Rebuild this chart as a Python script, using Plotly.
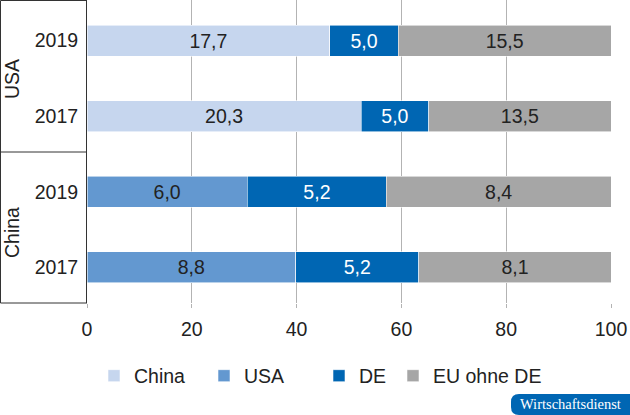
import plotly.graph_objects as go

# ---- data ----
groups = ["USA", "China"]
years = ["2019", "2017", "2019", "2017"]
row_pos = [3, 2, 1, 0]
china_vals = [17.7, 20.3, None, None]
usa_vals = [None, None, 6.0, 8.8]
de_vals = [5.0, 5.0, 5.2, 5.2]
eu_vals = [15.5, 13.5, 8.4, 8.1]
x_ticks = [0, 20, 40, 60, 80, 100]

series = [
    ("China", china_vals, "#c6d6ee", "#222222", "legend"),
    ("USA", usa_vals, "#6398d0", "#222222", "legend2"),
    ("DE", de_vals, "#0066b3", "#ffffff", "legend3"),
    ("EU ohne DE", eu_vals, "#a6a6a6", "#222222", "legend4"),
]

FONT = "Liberation Sans, Arial, sans-serif"
FS = 19.5

def fmt(v):
    return "" if v is None else f"{v:.1f}".replace(".", ",")

fig = go.Figure()
for name, vals, color, tcolor, leg in series:
    fig.add_trace(go.Bar(
        name=name, orientation="h", y=row_pos, x=vals,
        width=0.41,
        marker=dict(color=color, line=dict(color="rgba(255,255,255,0.7)", width=0.8)),
        text=[fmt(v) for v in vals], texttemplate="%{text}",
        textposition="inside", insidetextanchor="middle", textangle=0,
        insidetextfont=dict(family=FONT, size=FS, color=tcolor),
        hoverinfo="skip", legend=leg, showlegend=True,
    ))

L, R, T, B = 87, 19, 0, 112
W, H = 630, 415
pw, ph = W - L - R, H - T - B

def px_x(p):
    return (p - L) / pw

def px_y(p):
    return (T + ph - p) / ph

leg_common = dict(orientation="h", xanchor="left", yanchor="middle",
                  bgcolor="rgba(0,0,0,0)", borderwidth=0,
                  font=dict(family=FONT, size=FS, color="#222222"))
leg_y = px_y(376)

fig.update_layout(
    width=W, height=H,
    margin=dict(l=L, r=R, t=T, b=B, pad=0),
    paper_bgcolor="white", plot_bgcolor="white",
    barmode="stack", barnorm="percent",
    font=dict(family=FONT, size=FS, color="#222222"),
    legend=dict(x=px_x(94), y=leg_y, **leg_common),
    legend2=dict(x=px_x(204), y=leg_y, **leg_common),
    legend3=dict(x=px_x(319), y=leg_y, **leg_common),
    legend4=dict(x=px_x(393), y=leg_y, **leg_common),
    xaxis=dict(range=[0, 100], tickvals=x_ticks, showgrid=True,
               gridcolor="#b3b3b3", gridwidth=1, zeroline=False,
               showline=False, ticks="outside", ticklen=4, tickcolor="#b3b3b3",
               ticklabelstandoff=5,
               tickfont=dict(family=FONT, size=FS, color="#222222"),
               fixedrange=True),
    yaxis=dict(range=[-0.472, 3.536], tickvals=row_pos, ticktext=years,
               showgrid=False, zeroline=False, showline=True,
               linecolor="#333333", linewidth=1, ticks="",
               ticklabelstandoff=4,
               tickfont=dict(family=FONT, size=FS, color="#222222"),
               fixedrange=True),
)

# group box on the left
line = dict(color="#333333", width=1)
x_left = px_x(0.5)
for y in [px_y(0.5), px_y(152), 0]:
    fig.add_shape(type="line", xref="paper", yref="paper",
                  x0=x_left, x1=0, y0=y, y1=y, line=line)
fig.add_shape(type="line", xref="paper", yref="paper",
              x0=x_left, x1=x_left, y0=0, y1=px_y(0.5), line=line)

# group labels
for g, yp in zip(groups, [79, 233]):
    fig.add_annotation(text=g, xref="paper", yref="paper",
                       x=px_x(12), y=px_y(yp), textangle=-90, showarrow=False,
                       xanchor="center", yanchor="middle",
                       font=dict(family=FONT, size=FS, color="#222222"))

# badge
r = 8
x0b, x1b, y0b, y1b = -100, 30, -91, -112
path = (f"M{x0b + r},{y0b} L{x1b},{y0b} L{x1b},{y1b} L{x0b + r},{y1b} "
        f"Q{x0b},{y1b} {x0b},{y1b + r} L{x0b},{y0b - r} Q{x0b},{y0b} {x0b + r},{y0b} Z")
fig.add_shape(type="path", xref="paper", yref="paper",
              xsizemode="pixel", ysizemode="pixel", xanchor=1, yanchor=0,
              path=path, fillcolor="#0066b3", line=dict(width=0))
fig.add_annotation(text="Wirtschaftsdienst", xref="paper", yref="paper",
                   x=px_x(570), y=px_y(404), showarrow=False,
                   xanchor="center", yanchor="middle",
                   font=dict(family="Liberation Serif, Times New Roman, serif",
                             size=14.5, color="white"))

fig.write_html("out.html",
               config={"displayModeBar": False, "staticPlot": True},
               post_script="document.body.style.margin='0px';"
                           "document.body.style.padding='0px';")
